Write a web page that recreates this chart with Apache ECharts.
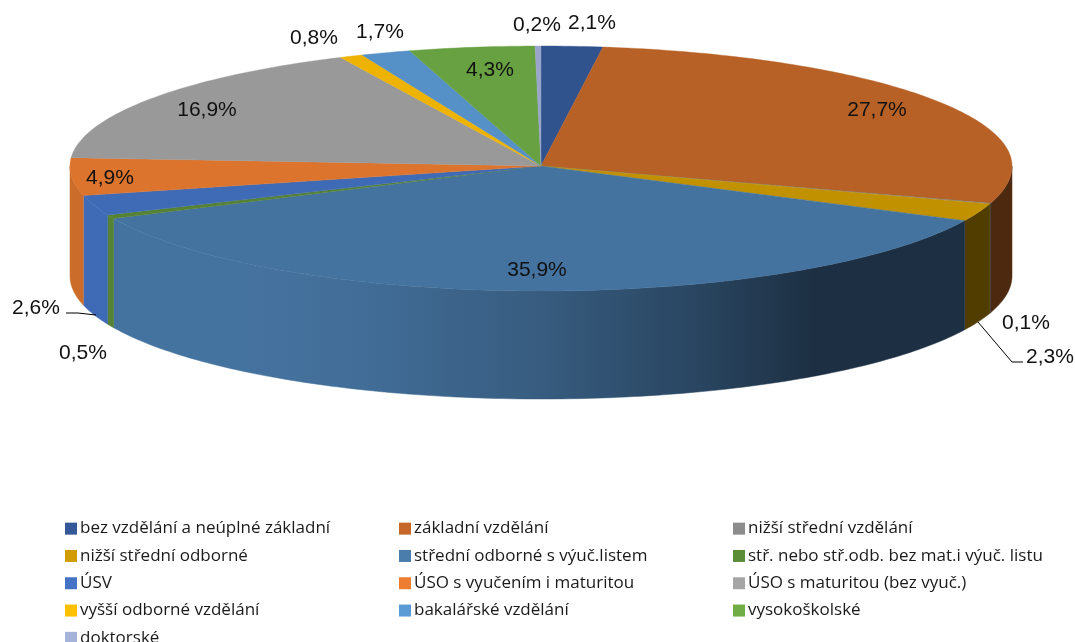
<!DOCTYPE html>
<html><head><meta charset="utf-8">
<style>html,body{margin:0;padding:0;background:#fff;overflow:hidden}#c{width:1075px;height:642px}</style>
<script src="https://cdn.jsdelivr.net/npm/echarts@6/dist/echarts.min.js"></script>
</head><body><div id="c"></div>
<script>
const categories = ['bez vzdělání a neúplné základní','základní vzdělání','nižší střední vzdělání','nižší střední odborné','střední odborné s výuč.listem','stř. nebo stř.odb. bez mat.i výuč. listu','ÚSV','ÚSO s vyučením i maturitou','ÚSO s maturitou (bez vyuč.)','vyšší odborné vzdělání','bakalářské vzdělání','vysokoškolské','doktorské'];
const shares = [2.1,27.7,0.1,2.3,35.9,0.5,2.6,4.9,16.9,0.8,1.7,4.3,0.2];
const colors = ['#345898','#c5682a','#8c8c8c','#d09c00','#4a7cac','#5b8c38','#4472c4','#ed7d31','#a5a5a5','#ffc000','#5b9bd5','#70ad47','#a5b3d9'];
const labelCenters = [[592,23],[877,110],[1026,323],[1050,357],[537,270],[83,353],[36,308],[110,178],[207,110],[314,38],[380,32],[490,70],[537,25]];
const leaderLines = {3:[[978,322],[1012,362],[1023,362]],6:[[66,313],[78,313],[96,315]]};
const wallShade = [[70,.86],[83,.86],[83.5,.93],[230,.93],[350,.89],[541,.74],[700,.56],[813,.39],[1012,.39]];
const CX=541, CY=166, RX=471, RY_BACK=120, RY_FRONT=125, BASE_CY=276, BASE_RY=123, TOP_SHADE=.93;

function shade(hex,f){
  const n=parseInt(hex.slice(1),16);
  return 'rgb('+[(n>>16)&255,(n>>8)&255,n&255].map(v=>Math.round(v*f)).join(',')+')';
}
function topPt(deg){
  const a=deg*Math.PI/180, c=Math.cos(a);
  return [CX+RX*Math.sin(a), CY-(c>=0?RY_BACK:RY_FRONT)*c];
}
function basePt(deg){
  const a=deg*Math.PI/180;
  return [CX+RX*Math.sin(a), BASE_CY-BASE_RY*Math.cos(a)];
}
function arc(a0,a1,fn){
  const pts=[], n=Math.max(2,Math.ceil(Math.abs(a1-a0)));
  for(let i=0;i<=n;i++) pts.push(fn(a0+(a1-a0)*i/n));
  return pts;
}
const total=shares.reduce((s,v)=>s+v,0);
function renderSlice(params,api){
  const i=params.seriesIndex, value=api.value(0);
  const before=shares.slice(0,i).reduce((s,v)=>s+v,0);
  const a0=before/total*360, a1=(before+value)/total*360;
  const children=[];
  const w0=Math.max(a0,90), w1=Math.min(a1,270);
  if(w1>w0){
    const stops=wallShade.map(s=>({offset:(s[0]-CX+RX)/(2*RX),color:shade(colors[i],s[1])}));
    const fill=new echarts.graphic.LinearGradient(CX-RX,0,CX+RX,0,stops,true);
    children.push({type:'polygon',shape:{points:arc(w0,w1,topPt).concat(arc(w1,w0,basePt))},style:{fill:fill,stroke:fill,lineWidth:.5}});
  }
  const top=shade(colors[i],TOP_SHADE);
  children.push({type:'polygon',shape:{points:[[CX,CY]].concat(arc(a0,a1,topPt))},style:{fill:top,stroke:top,lineWidth:.4}});
  if(leaderLines[i]) children.push({type:'polyline',shape:{points:leaderLines[i]},style:{fill:null,stroke:'#000',lineWidth:1},z2:20});
  children.push({type:'text',z2:30,x:labelCenters[i][0],y:labelCenters[i][1],style:{
    text:value.toFixed(1).replace('.',',')+'%',fontFamily:'"Liberation Sans",Arial,sans-serif',fontSize:21,fill:'#111',align:'center',verticalAlign:'middle'}});
  return {type:'group',children:children};
}
const chart=echarts.init(document.getElementById('c'),null,{renderer:'canvas'});
chart.setOption({
  animation:false,
  backgroundColor:'#fff',
  color:colors,
  legend:{
    data:categories,left:65,top:519,width:1010,orient:'horizontal',padding:0,
    icon:'rect',itemWidth:12,itemHeight:12,itemGap:8,selectedMode:false,
    textStyle:{fontFamily:'"Open Sans"',fontSize:17,color:'#1a1a1a',width:311,lineHeight:19.3,padding:[0,0,0,-2]}
  },
  series:categories.map((name,i)=>({
    type:'custom',name:name,coordinateSystem:'none',silent:true,
    itemStyle:{color:colors[i]},
    renderItem:renderSlice,data:[[shares[i]]]
  }))
});
</script></body></html>
